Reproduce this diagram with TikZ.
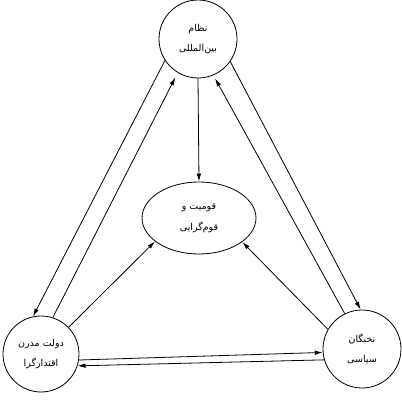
\documentclass[tikz,border=0pt]{standalone}
\usepackage{fontspec}
\newfontfamily\arabicfont[Script=Arabic]{DejaVu Sans}
\TeXXeTstate=1
\usetikzlibrary{shapes.geometric,arrows.meta}
\begin{document}
\begin{tikzpicture}[x=1pt,y=1pt,
  every node/.style={inner sep=0pt},
  circ/.style={draw,circle,line width=0.8pt,align=center,
    font=\arabicfont\fontsize{9.5}{20}\selectfont},
  ovalbox/.style={draw,ellipse,line width=0.8pt,align=center,
    font=\arabicfont\fontsize{9.5}{21}\selectfont},
  link/.style={line width=0.8pt,-{Latex[length=8pt,width=4.5pt]}}]
\useasboundingbox[fill=white] (0,0) rectangle (402,400);
\node[circ,minimum size=78pt] (top) at (198,361)
  {\beginR نظام\endR\\\beginR بین‌المللی\endR};
\node[ovalbox,minimum width=114pt,minimum height=72pt] (ell) at (199,182)
  {\beginR قومیت و\endR\\\beginR قوم‌گرایی\endR};
\node[circ,minimum size=76pt] (left) at (41,46)
  {\beginR دولت مدرن\endR\\\beginR اقتدارگرا\endR};
\node[circ,minimum size=78pt] (right) at (362,51)
  {\beginR نخبگان\endR\\\beginR سیاسی\endR};
% top to center
\draw[link] (top.south) -- (ell.north);
% top <-> left
\draw[link] (top.213) -- (left.102);
\draw[link,shorten >=5pt] (left.72) -- (top.239);
% top <-> right
\draw[link] (top.325) -- (right.92);
\draw[link,shorten >=3.5pt] (right.116) -- (top.293);
% to center
\draw[link] (left.44) -- (ell.208);
\draw[link] (right.150) -- (ell.331);
% bottom pair
\draw[link] (left.351) -- (right.185);
\draw[link] (right.196) -- (left.342);
\end{tikzpicture}
\end{document}
